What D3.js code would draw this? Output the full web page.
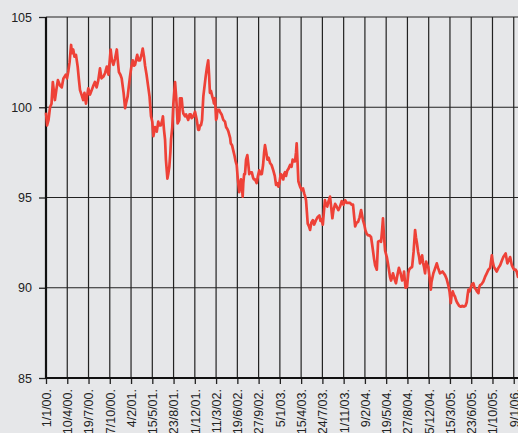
<!DOCTYPE html>
<html>
<head>
<meta charset="utf-8">
<script src="https://cdn.jsdelivr.net/npm/d3@7"></script>
<style>
    html, body { margin: 0; padding: 0; background: #e6e7e9; overflow: hidden; }
    svg { display: block; font-family: "Liberation Sans", Arial, Helvetica, sans-serif; }
</style>
</head>
<body>
<div id="chart"></div>
<script>

// days since 1 Jan 2000
const dayOffsets = [
    0, 5, 12, 19, 26, 32, 38, 42, 49, 56,
    66, 74, 82, 93, 99, 105, 111, 118, 122, 128,
    134, 141, 149, 155, 160, 167, 175, 181, 188, 193,
    199, 207, 215, 223, 230, 238, 246, 254, 261, 270,
    278, 286, 294, 304, 310, 317, 325, 333, 339, 343,
    350, 356, 365, 372, 378, 384, 390, 395, 401, 408,
    414, 419, 425, 429, 435, 442, 449, 455, 461, 466,
    473, 480, 487, 494, 500, 505, 513, 521, 528, 533,
    540, 547, 550, 555, 560, 564, 571, 575, 580, 585,
    588, 594, 599, 607, 612, 615, 619, 627, 630, 638,
    643, 646, 654, 659, 669, 675, 681, 685, 693, 701,
    709, 716, 720, 724, 729, 734, 740, 751, 757, 763,
    767, 771, 776, 782, 787, 790, 795, 800, 803, 806,
    815, 818, 826, 834, 842, 847, 853, 858, 866, 869,
    875, 881, 887, 892, 897, 902, 906, 909, 913, 917,
    922, 925, 928, 932, 936, 941, 947, 952, 956, 962,
    968, 974, 978, 983, 991, 997, 1003, 1009, 1015, 1021,
    1026, 1030, 1036, 1041, 1047, 1054, 1061, 1069, 1076, 1082,
    1087, 1093, 1098, 1104, 1110, 1116, 1120, 1124, 1129, 1135,
    1141, 1148, 1155, 1160, 1167, 1171, 1176, 1179, 1183, 1187,
    1195, 1203, 1209, 1215, 1218, 1223, 1227, 1231, 1237, 1242,
    1248, 1255, 1261, 1265, 1270, 1277, 1286, 1291, 1296, 1302,
    1307, 1312, 1317, 1323, 1329, 1336, 1341, 1347, 1352, 1360,
    1367, 1375, 1383, 1391, 1399, 1407, 1414, 1422, 1430, 1437,
    1444, 1449, 1454, 1461, 1468, 1475, 1482, 1487, 1491, 1497,
    1502, 1508, 1515, 1522, 1529, 1534, 1538, 1543, 1548, 1556,
    1559, 1562, 1569, 1576, 1581, 1585, 1590, 1595, 1603, 1609,
    1613, 1618, 1623, 1628, 1632, 1639, 1646, 1653, 1660, 1668,
    1675, 1682, 1684, 1691, 1698, 1704, 1708, 1715, 1722, 1729,
    1736, 1740, 1745, 1750, 1755, 1759, 1764, 1769, 1773, 1778,
    1783, 1788, 1792, 1798, 1804, 1810, 1813, 1822, 1828, 1838,
    1844, 1853, 1865, 1877, 1884, 1892, 1898, 1904, 1908, 1913,
    1919, 1924, 1929, 1935, 1943, 1951, 1959, 1966, 1973, 1979,
    1983, 1987, 1992, 1999, 2004, 2010, 2016, 2023, 2027, 2034,
    2037, 2042, 2049, 2057, 2065, 2073, 2081, 2089, 2097, 2101,
    2107, 2115, 2120, 2128, 2136, 2144, 2151, 2162, 2170, 2176,
    2183, 2191, 2197, 2202, 2209, 2214, 2220, 2230
];

const indexValues = [
    99.7, 99.0, 99.3, 100.0, 100.2, 101.4, 100.8, 100.4, 101.0, 101.5,
    101.2, 101.1, 101.6, 101.8, 101.6, 102.0, 102.5, 103.45, 103.0, 103.2,
    102.8, 102.9, 102.25, 101.5, 100.95, 100.7, 100.4, 100.8, 100.2, 100.6,
    101.05, 100.7, 100.95, 101.2, 101.4, 101.1, 101.5, 102.15, 101.6, 101.7,
    101.9, 102.25, 101.8, 103.2, 102.6, 102.35, 102.7, 103.2, 102.4, 101.95,
    101.8, 101.6, 100.8, 99.95, 100.3, 100.6, 101.2, 101.7, 102.2, 102.6,
    102.3, 102.35, 102.7, 102.9, 102.6, 102.6, 102.9, 103.25, 102.8, 102.3,
    101.8, 101.2, 100.6, 99.5, 99.2, 98.4, 98.9, 98.65, 99.2, 99.0,
    99.0, 99.3, 99.5, 98.75, 98.2, 97.1, 96.05, 96.3, 96.7, 97.5,
    98.2, 98.9, 100.2, 101.4, 100.6, 100.05, 99.1, 99.3, 100.5, 100.5,
    99.85, 99.65, 99.5, 99.6, 99.3, 99.6, 99.6, 99.4, 99.5, 99.75,
    99.3, 98.75, 98.75, 99.0, 99.0, 99.3, 100.6, 101.7, 102.2, 102.6,
    101.8, 100.8, 100.9, 100.6, 100.4, 100.2, 100.5, 99.3, 99.4, 99.85,
    99.85, 99.75, 99.6, 99.3, 99.2, 98.9, 98.8, 98.65, 98.3, 98.0,
    97.9, 97.6, 97.3, 97.0, 96.8, 96.05, 95.6, 95.3, 95.7, 96.0,
    95.5, 95.05, 95.8, 96.3, 96.3, 97.1, 97.35, 96.8, 96.3, 96.4,
    96.4, 96.1, 96.0, 96.0, 95.8, 96.2, 96.5, 96.3, 96.3, 96.8,
    97.5, 97.9, 97.5, 97.1, 97.2, 96.9, 96.8, 96.5, 96.2, 95.7,
    95.8, 95.6, 95.8, 96.3, 96.2, 96.0, 96.3, 96.4, 96.2, 96.5,
    96.6, 96.8, 96.7, 97.1, 97.0, 97.0, 97.5, 98.0, 97.0, 95.9,
    95.6, 95.4, 95.5, 95.2, 95.1, 94.85, 94.2, 93.55, 93.4, 93.2,
    93.6, 93.75, 93.5, 93.6, 93.75, 93.9, 94.0, 93.7, 93.8, 93.5,
    94.2, 94.85, 94.6, 94.5, 94.8, 95.05, 94.5, 93.85, 94.3, 94.65,
    94.5, 94.3, 94.5, 94.8, 94.6, 94.85, 94.7, 94.7, 94.7, 94.6,
    94.6, 94.0, 93.4, 93.6, 93.65, 93.9, 94.3, 94.0, 93.75, 93.5,
    93.2, 93.0, 92.9, 92.9, 92.8, 92.4, 92.05, 91.6, 91.25, 91.0,
    91.8, 92.55, 92.6, 92.55, 93.2, 93.85, 92.8, 92.05, 91.7, 91.3,
    91.0, 90.6, 90.4, 90.6, 90.8, 90.5, 90.25, 90.7, 91.1, 90.8,
    90.4, 90.6, 90.9, 90.0, 90.05, 90.8, 91.0, 91.1, 91.15, 92.0,
    93.2, 92.8, 92.45, 92.0, 91.7, 91.35, 91.6, 91.8, 91.4, 91.15,
    90.8, 91.45, 91.3, 91.15, 90.6, 89.9, 90.3, 90.8, 91.0, 91.35,
    91.1, 90.8, 90.9, 90.7, 90.5, 90.15, 89.8, 89.15, 89.6, 89.8,
    89.6, 89.5, 89.3, 89.15, 89.0, 88.95, 89.0, 88.95, 89.0, 89.2,
    89.6, 89.9, 89.8, 90.05, 90.2, 90.25, 90.0, 89.9, 89.8, 89.7,
    90.0, 90.15, 90.2, 90.35, 90.6, 90.8, 91.0, 91.1, 91.8, 91.45,
    91.15, 91.0, 90.9, 91.1, 91.25, 91.5, 91.7, 91.9, 91.35, 91.5,
    91.7, 91.25, 91.1, 91.0, 91.0, 90.9, 90.6, 90.8
];

const yTicks = [85, 90, 95, 100, 105];
const tickStepDays = 100;   // date ticks every 100 days
const lastTickDay = 2200;
const endDay = 2300;

const width = 518, height = 433;
const plotLeft = 46, plotTop = 17, plotBottom = 378, plotRight = 535;

const start = new Date(Date.UTC(2000, 0, 1));
const data = dayOffsets.map((d, i) => ({date: d3.utcDay.offset(start, d), value: indexValues[i]}));
const tickDates = d3.range(0, lastTickDay + 1, tickStepDays).map(d => d3.utcDay.offset(start, d));

const x = d3.scaleUtc()
    .domain([start, d3.utcDay.offset(start, endDay)])
    .range([plotLeft, plotRight]);

const y = d3.scaleLinear()
    .domain([85, 105])
    .range([plotBottom, plotTop]);

const svg = d3.select('#chart').append('svg')
    .attr('width', width)
    .attr('height', height);

svg.append('rect')
    .attr('width', width)
    .attr('height', height)
    .attr('fill', '#e6e7e9');

// grid
const grid = svg.append('g').attr('stroke', '#222').attr('stroke-width', 1.2);
grid.selectAll('.vgrid')
    .data(tickDates.slice(1))
    .join('line')
    .attr('x1', d => x(d)).attr('x2', d => x(d))
    .attr('y1', y(105)).attr('y2', y(85));
grid.selectAll('.hgrid')
    .data(yTicks.slice(1))
    .join('line')
    .attr('x1', plotLeft).attr('x2', width + 10)
    .attr('y1', d => y(d)).attr('y2', d => y(d));

// axes
const fmt = d3.utcFormat('%-d/%-m/%y.');

const yAxis = svg.append('g')
    .attr('transform', `translate(${plotLeft},0)`)
    .call(d3.axisLeft(y).tickValues(yTicks).tickSize(7).tickPadding(7));
yAxis.select('.domain').remove();
yAxis.selectAll('line').attr('stroke', '#222').attr('stroke-width', 1.3);
yAxis.selectAll('text').attr('fill', '#222').style('font-size', '12.5px');

const xAxis = svg.append('g')
    .attr('transform', `translate(0,${plotBottom})`)
    .call(d3.axisBottom(x).tickValues(tickDates).tickSize(6).tickFormat(fmt));
xAxis.select('.domain').remove();
xAxis.selectAll('line').attr('stroke', '#222').attr('stroke-width', 1.3);
xAxis.selectAll('text')
    .attr('fill', '#222')
    .style('font-size', '12.5px')
    .attr('transform', 'rotate(-90)')
    .attr('text-anchor', 'end')
    .attr('x', -11)
    .attr('y', 0)
    .attr('dy', '0.35em');

svg.append('line')
    .attr('x1', plotLeft).attr('x2', plotLeft)
    .attr('y1', plotTop).attr('y2', plotBottom + 1)
    .attr('stroke', '#111').attr('stroke-width', 2.2);
svg.append('line')
    .attr('x1', plotLeft - 1).attr('x2', width + 10)
    .attr('y1', plotBottom).attr('y2', plotBottom)
    .attr('stroke', '#111').attr('stroke-width', 2.2);

// series
const line = d3.line()
    .x(d => x(d.date))
    .y(d => y(d.value));

svg.append('path')
    .datum(data)
    .attr('fill', 'none')
    .attr('stroke', '#ee4137')
    .attr('stroke-width', 2.7)
    .attr('stroke-linejoin', 'round')
    .attr('d', line);

</script>
</body>
</html>
